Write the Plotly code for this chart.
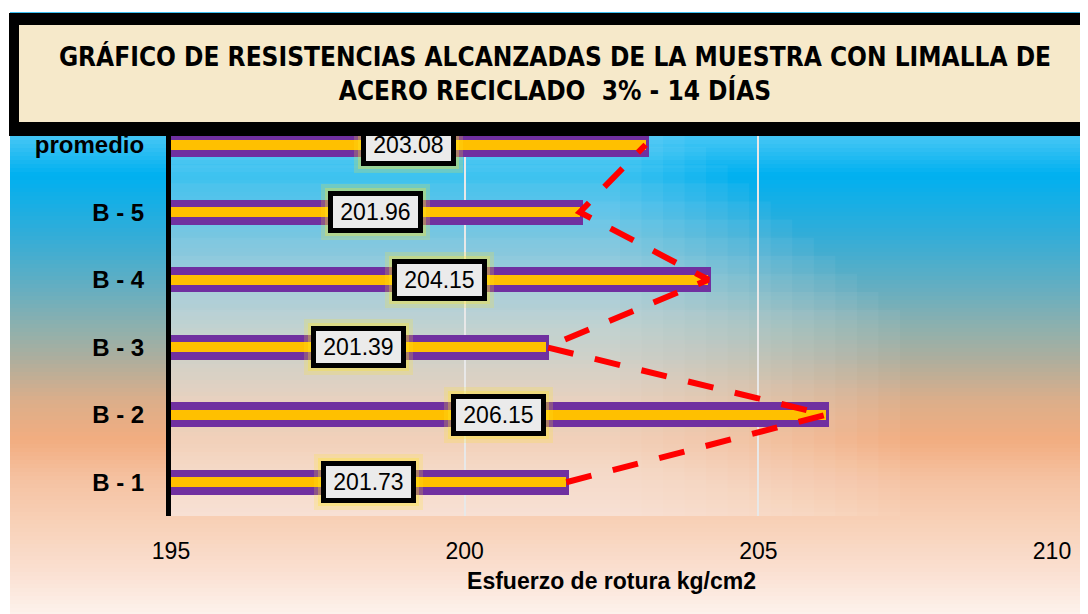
import plotly.graph_objects as go

# ---------------- data ----------------
categories = ["B - 1", "B - 2", "B - 3", "B - 4", "B - 5", "promedio"]
values = [201.73, 206.15, 201.39, 204.15, 201.96, 203.08]
x_ticks = [195, 200, 205, 210]
title_text = ("GRÁFICO DE RESISTENCIAS ALCANZADAS DE LA MUESTRA CON LIMALLA DE"
              "<br>ACERO RECICLADO  3% - 14 DÍAS")
x_title = "Esfuerzo de rotura kg/cm2"

# ---------------- geometry (page pixels; the page body has an 8px margin) ----------------
OFF = 8
W, H = 1080, 606
PL, PR, PT, PB = 171, 1052, 111, 516          # plot area in page pixels
L, R, T, B = PL - OFF, W - (PR - OFF), PT - OFF, H - (PB - OFF)
PW, PH = W - L - R, H - T - B


def px(xp):
    return (xp - PL) / PW


def py(yp):
    return (PB - yp) / PH


# background gradient stops (page y, colour)
bg_stops = [(10, (60, 192, 242)), (140, (64, 196, 244)), (175, (0, 176, 240)),
            (235, (50, 173, 216)), (285, (98, 174, 194)), (330, (144, 176, 172)),
            (362, (176, 174, 156)), (400, (219, 174, 138)), (440, (242, 173, 128)),
            (480, (245, 194, 162)), (520, (248, 208, 182)), (570, (250, 223, 208)),
            (616, (253, 243, 237))]


def bg_color(y):
    for (y0, c0), (y1, c1) in zip(bg_stops[:-1], bg_stops[1:]):
        if y0 <= y <= y1:
            t = (y - y0) / (y1 - y0)
            c = [round(a + (b - a) * t) for a, b in zip(c0, c1)]
            return "rgb(%d,%d,%d)" % tuple(c)
    return "rgb(%d,%d,%d)" % bg_stops[-1][1]


shapes = []
step = 4
for yy in range(12, 616, step):
    shapes.append(dict(type="rect", xref="paper", yref="paper", layer="below",
                       x0=px(10), x1=px(1095), y0=py(yy + step + 1), y1=py(yy),
                       fillcolor=bg_color(yy + step / 2), line=dict(width=0)))

# soft white plot-area glow (stepped soft edge)
n_glow = 14
for i in range(n_glow):
    right = 620 + i * (900 - 620) / (n_glow - 1)
    top = 111 + max(0, i - 2) * (310 - 111) / (n_glow - 3)
    shapes.append(dict(type="rect", xref="paper", yref="paper", layer="below",
                       x0=0, x1=px(right), y0=0, y1=py(top),
                       fillcolor="rgba(255,255,255,0.047)", line=dict(width=0)))

fig = go.Figure()
fig.add_trace(go.Bar(y=categories, x=values, orientation="h", width=0.28,
                     marker=dict(color="#7030A0", line=dict(color="#7030A0", width=6)),
                     hoverinfo="skip"))
fig.add_trace(go.Bar(y=categories, x=values, orientation="h", width=0.145,
                     marker=dict(color="#FFC000", line=dict(width=0)),
                     hoverinfo="skip"))
fig.add_trace(go.Scatter(y=categories, x=values, mode="lines",
                         line=dict(color="#FF0000", width=6, dash="26px,22px"),
                         hoverinfo="skip"))

annotations = []
lab_font = dict(family="Liberation Sans, Arial, sans-serif", size=23, color="black")
for c, v in zip(categories, values):
    xc = (x_ticks[0] + v) / 2
    for pad, alpha in [(15, 0.20), (11, 0.30)]:
        annotations.append(dict(x=xc, y=c, xref="x", yref="y", text="%.2f" % v,
                                showarrow=False, width=79, height=26,
                                font=dict(lab_font, color="rgba(0,0,0,0)"),
                                bgcolor="rgba(255,232,40,%.2f)" % alpha,
                                borderpad=pad, borderwidth=0))
    annotations.append(dict(x=xc, y=c, xref="x", yref="y", text="%.2f" % v,
                            showarrow=False, width=79, height=26, font=lab_font,
                            bgcolor="#EBEBEB", bordercolor="black",
                            borderwidth=5, borderpad=3))

# title frame (black) and parchment panel with the title text
annotations.append(dict(x=px(9), y=py(13), xref="paper", yref="paper",
                        xanchor="left", yanchor="top", text=".", showarrow=False,
                        align="left", valign="bottom",
                        width=1100, height=123, bgcolor="black",
                        font=dict(size=8, color="black"), borderpad=0, borderwidth=0))
annotations.append(dict(x=px(19), y=py(25), xref="paper", yref="paper",
                        xanchor="left", yanchor="top", text=title_text,
                        showarrow=False, width=1072, height=97, bgcolor="#F6E9CA",
                        align="center",
                        font=dict(family="Liberation Sans Narrow, DejaVu Sans Condensed, sans-serif",
                                  size=26, color="black", weight="bold"),
                        borderpad=0, borderwidth=0))

fig.update_layout(
    width=W, height=H, margin=dict(l=L, r=R, t=T, b=B, autoexpand=False),
    paper_bgcolor="white", plot_bgcolor="rgba(0,0,0,0)",
    barmode="overlay", showlegend=False, bargap=0,
    shapes=shapes, annotations=annotations,
    xaxis=dict(range=[195, 210], tickvals=x_ticks, showgrid=True,
               gridcolor="#E8E8E8", gridwidth=2, zeroline=False, showline=False,
               ticks="outside", ticklen=14, tickcolor="rgba(0,0,0,0)",
               tickfont=dict(family="Liberation Sans, Arial, sans-serif", size=23, color="black"),
               title=dict(text=x_title, standoff=10,
                          font=dict(family="Liberation Sans, Arial, sans-serif", size=23,
                                    color="black", weight="bold")),
               automargin=False),
    yaxis=dict(categoryorder="array", categoryarray=categories, range=[-0.5, 5.5],
               showgrid=False, zeroline=False, showline=True, linecolor="black",
               linewidth=5, ticks="outside", ticklen=17, tickcolor="rgba(0,0,0,0)",
               tickfont=dict(family="Liberation Sans, Arial, sans-serif", size=24,
                             color="black", weight="bold"),
               automargin=False),
)

fig.write_html("out.html")
